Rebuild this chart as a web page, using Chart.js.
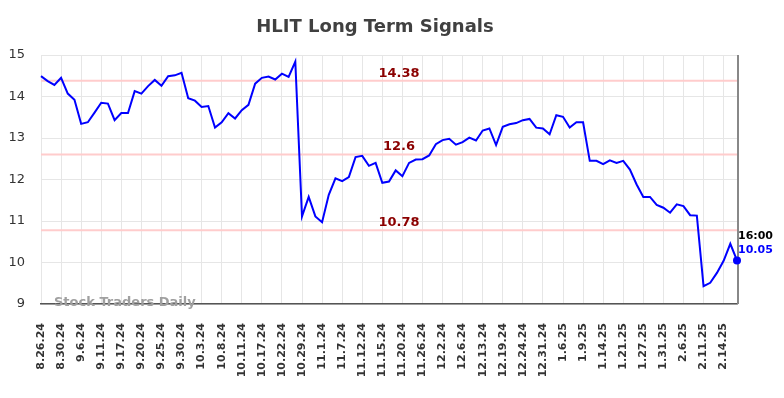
<!DOCTYPE html>
<html>
<head>
<meta charset="utf-8">
<script src="https://cdn.jsdelivr.net/npm/chart.js@4.4.1/dist/chart.umd.min.js"></script>
<style>
  html, body { margin: 0; padding: 0; background: #fff; }
  #wrap { width: 784px; height: 398px; }
</style>
</head>
<body>
<div id="wrap"><canvas id="chart"></canvas></div>
<script>
// tick labels, one every 3 trading days
var tickLabels = ["8.26.24", "8.30.24", "9.6.24", "9.11.24", "9.17.24", "9.20.24", "9.25.24",
  "9.30.24", "10.3.24", "10.8.24", "10.11.24", "10.17.24", "10.22.24", "10.29.24", "11.1.24",
  "11.7.24", "11.12.24", "11.15.24", "11.20.24", "11.26.24", "12.2.24", "12.6.24", "12.13.24",
  "12.19.24", "12.24.24", "12.31.24", "1.6.25", "1.9.25", "1.14.25", "1.21.25", "1.27.25",
  "1.31.25", "2.6.25", "2.11.25", "2.14.25"];

// closing prices
var prices = [
  14.49, 14.37, 14.28, 14.45, 14.07, 13.92, 13.34, 13.38, 13.61, 13.85, 13.83, 13.43, 13.60, 13.60, 14.13, 14.07, 14.25, 14.40,
  14.26, 14.49, 14.51, 14.57, 13.96, 13.90, 13.75, 13.77, 13.25, 13.38, 13.60, 13.47, 13.67, 13.80, 14.31, 14.45, 14.48, 14.41,
  14.55, 14.47, 14.84, 11.11, 11.58, 11.11, 10.97, 11.63, 12.03, 11.96, 12.06, 12.54, 12.57, 12.33, 12.40, 11.92, 11.95, 12.22,
  12.08, 12.40, 12.48, 12.49, 12.58, 12.85, 12.95, 12.98, 12.84, 12.90, 13.01, 12.94, 13.18, 13.23, 12.83, 13.27, 13.33, 13.36,
  13.43, 13.46, 13.25, 13.23, 13.09, 13.55, 13.51, 13.25, 13.38, 13.38, 12.45, 12.45, 12.37, 12.46, 12.40, 12.45, 12.24, 11.88,
  11.58, 11.58, 11.39, 11.32, 11.20, 11.40, 11.36, 11.14, 11.13, 9.43, 9.51, 9.75, 10.04, 10.45, 10.05
];

var signals = [14.38, 12.6, 10.78];
var lastTime = "16:00";

var labels = [];
for (var i = 0; i < prices.length; i++) {
  labels.push(i % 3 === 0 && tickLabels[i / 3] ? tickLabels[i / 3] : "");
}

var extras = {
  id: "extras",
  beforeDatasetsDraw: function(chart) {
    var ctx = chart.ctx, a = chart.chartArea, y = chart.scales.y;
    ctx.save();
    // signal lines
    ctx.strokeStyle = "#ffcccc";
    ctx.lineWidth = 2;
    signals.forEach(function(v) {
      var py = y.getPixelForValue(v);
      ctx.beginPath();
      ctx.moveTo(a.left, py);
      ctx.lineTo(a.right, py);
      ctx.stroke();
    });
    // right border
    ctx.strokeStyle = "#888";
    ctx.lineWidth = 2;
    ctx.beginPath();
    ctx.moveTo(a.right + 1, a.top);
    ctx.lineTo(a.right + 1, a.bottom);
    ctx.stroke();
    ctx.restore();
  },
  afterDatasetsDraw: function(chart) {
    var ctx = chart.ctx, a = chart.chartArea, y = chart.scales.y;
    ctx.save();
    ctx.font = "bold 13px 'DejaVu Sans'";
    ctx.fillStyle = "#8b0000";
    ctx.textAlign = "center";
    ctx.textBaseline = "bottom";
    signals.forEach(function(v) {
      ctx.fillText(String(v), 399, y.getPixelForValue(v) - 1);
    });

    // watermark
    ctx.font = "bold 13px 'DejaVu Sans'";
    ctx.fillStyle = "#a0a0a0";
    ctx.textAlign = "left";
    ctx.textBaseline = "middle";
    ctx.fillText("Stock Traders Daily", 54, a.bottom - 1);

    // last value
    var meta = chart.getDatasetMeta(0);
    var pt = meta.data[meta.data.length - 1];
    ctx.fillStyle = "#0000ff";
    ctx.beginPath();
    ctx.arc(pt.x, pt.y, 4, 0, Math.PI * 2);
    ctx.fill();
    ctx.font = "bold 11px 'DejaVu Sans'";
    ctx.textAlign = "left";
    ctx.fillStyle = "#000";
    ctx.fillText(lastTime, pt.x + 1, pt.y - 24);
    ctx.fillStyle = "#0000ff";
    ctx.fillText(prices[prices.length - 1].toFixed(2), pt.x + 1, pt.y - 10);

    // title
    ctx.font = "bold 18px 'DejaVu Sans'";
    ctx.fillStyle = "#404040";
    ctx.textAlign = "center";
    ctx.fillText("HLIT Long Term Signals", 375, 27);
    ctx.restore();
  }
};

var chart = new Chart(document.getElementById("chart"), {
  type: "line",
  data: {
    labels: labels,
    datasets: [{
      data: prices,
      borderColor: "#0000ff",
      borderWidth: 2,
      pointRadius: 0,
      tension: 0,
      fill: false
    }]
  },
  options: {
    responsive: true,
    maintainAspectRatio: false,
    animation: false,
    layout: { padding: { top: 55, right: 47, left: 0, bottom: 0 } },
    plugins: {
      legend: { display: false },
      title: { display: false },
      tooltip: { enabled: false }
    },
    scales: {
      x: {
        grid: { color: "#e6e6e6", drawTicks: false },
        border: { color: "#555", width: 1.5 },
        afterFit: function(s) { s.height = 94; },
        ticks: {
          autoSkip: false,
          minRotation: 90,
          maxRotation: 90,
          padding: 19,
          color: "#333",
          font: { family: "DejaVu Sans", size: 11, weight: "bold" },
          callback: function(v, i) { return labels[i] === "" ? null : labels[i]; }
        }
      },
      y: {
        min: 9,
        max: 15,
        grid: { color: "#e6e6e6", drawTicks: false },
        border: { display: false },
        afterFit: function(s) { s.width = 41; },
        ticks: {
          stepSize: 1,
          padding: 16,
          color: "#333",
          font: { family: "DejaVu Sans", size: 13 }
        }
      }
    }
  },
  plugins: [extras]
});
</script>
</body>
</html>
